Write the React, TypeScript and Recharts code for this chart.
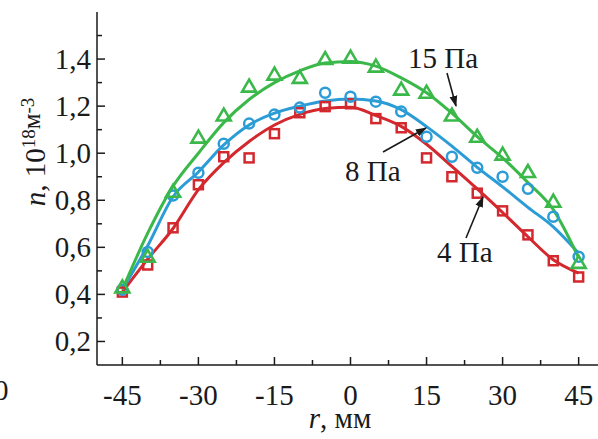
import {
  ComposedChart,
  Line,
  Scatter,
  XAxis,
  YAxis,
} from 'recharts'

const R_FIT = [-45, -40, -35, -30, -25, -20, -15, -10, -5, 0, 5, 10, 15, 20, 25, 30, 35, 40, 45]
const FIT_4PA = [0.41, 0.55, 0.68, 0.845, 0.96, 1.05, 1.12, 1.165, 1.19, 1.195, 1.16, 1.114, 1.038, 0.944, 0.848, 0.748, 0.645, 0.547, 0.49]
const FIT_8PA = [0.42, 0.607, 0.815, 0.92, 1.035, 1.12, 1.17, 1.2, 1.222, 1.23, 1.222, 1.185, 1.113, 1.03, 0.94, 0.857, 0.77, 0.687, 0.575]
const FIT_15PA = [0.42, 0.66, 0.86, 1.0, 1.13, 1.228, 1.3, 1.35, 1.383, 1.39, 1.37, 1.32, 1.257, 1.17, 1.07, 0.98, 0.875, 0.76, 0.555]

const R_PTS = [-45, -40, -35, -30, -25, -20, -15, -10, -5, 0, 5, 10, 15, 20, 25, 30, 35, 40, 45]
const PTS_4PA = [0.41, 0.525, 0.683, 0.866, 0.985, 0.98, 1.083, 1.172, 1.198, 1.21, 1.147, 1.108, 0.98, 0.9, 0.83, 0.755, 0.653, 0.543, 0.474]
const PTS_8PA = [0.42, 0.58, 0.82, 0.917, 1.04, 1.126, 1.164, 1.194, 1.257, 1.24, 1.219, 1.177, 1.07, 0.985, 0.938, 0.9, 0.849, 0.73, 0.56]
const PTS_15PA = [0.43, 0.56, 0.836, 1.066, 1.16, 1.283, 1.334, 1.32, 1.4, 1.406, 1.368, 1.27, 1.257, 1.16, 1.07, 0.994, 0.92, 0.794, 0.534]

const X_TICKS = [-45, -37.5, -30, -22.5, -15, -7.5, 0, 7.5, 15, 22.5, 30, 37.5, 45]
const Y_TICKS = [0.2, 0.3, 0.4, 0.5, 0.6, 0.7, 0.8, 0.9, 1.0, 1.1, 1.2, 1.3, 1.4, 1.5]
const Y_TICKS_RIGHT = [0.3, 0.5, 0.7, 0.9, 1.1, 1.3, 1.5]

const RED = '#d3282e'
const BLUE = '#2c9cd6'
const GREEN = '#3bb84a'
const INK = '#1a1a1a'
const FONT = "'Liberation Serif', 'Times New Roman', serif"

const toRows = (xs: number[], ys: number[]) => xs.map((x, i) => ({ x, y: ys[i] }))

const fit4 = toRows(R_FIT, FIT_4PA)
const fit8 = toRows(R_FIT, FIT_8PA)
const fit15 = toRows(R_FIT, FIT_15PA)
const pts4 = toRows(R_PTS, PTS_4PA)
const pts8 = toRows(R_PTS, PTS_8PA)
const pts15 = toRows(R_PTS, PTS_15PA)

const isMajorY = (v: number) => Math.round(v * 10) % 2 === 0
const isMajorX = (v: number) => Math.round(v * 10) % 150 === 0

function YTick(props: any) {
  const { x, y, payload } = props
  const major = isMajorY(payload.value)
  return (
    <g>
      <line x1={x} y1={y} x2={x + (major ? 8 : 5)} y2={y} stroke={INK} strokeWidth={1.5} />
      {major ? (
        <text x={x - 6} y={y + 10} textAnchor="end" fontFamily={FONT} fontSize={29} fill={INK}>
          {payload.value.toFixed(1).replace('.', ',')}
        </text>
      ) : null}
    </g>
  )
}

function XTick(props: any) {
  const { x, y, payload } = props
  const major = isMajorX(payload.value)
  return (
    <g>
      <line x1={x} y1={y} x2={x} y2={y - (major ? 8 : 5)} stroke={INK} strokeWidth={1.5} />
      {major ? (
        <text x={x} y={y + 40} textAnchor="middle" fontFamily={FONT} fontSize={29} fill={INK}>
          {String(payload.value)}
        </text>
      ) : null}
    </g>
  )
}

function RightTick(props: any) {
  const { x, y } = props
  return <line x1={x} y1={y} x2={x - 9} y2={y} stroke={INK} strokeWidth={1.5} />
}

const Square = (p: any) => (
  <rect x={p.cx - 4.5} y={p.cy - 4.5} width={9} height={9} fill="none" stroke={RED} strokeWidth={2.5} />
)
const Ring = (p: any) => (
  <circle cx={p.cx} cy={p.cy} r={5} fill="none" stroke={BLUE} strokeWidth={2.5} />
)
const Tri = (p: any) => (
  <polygon
    points={`${p.cx},${p.cy - 7} ${p.cx - 7},${p.cy + 5} ${p.cx + 7},${p.cy + 5}`}
    fill="none"
    stroke={GREEN}
    strokeWidth={2.6}
    strokeLinejoin="miter"
  />
)

function Arrow({ x1, y1, x2, y2 }: { x1: number; y1: number; x2: number; y2: number }) {
  return <line x1={x1} y1={y1} x2={x2} y2={y2} stroke={INK} strokeWidth={1.6} markerEnd="url(#head)" />
}

export default function App() {
  return (
    <div style={{ position: 'absolute', left: 0, top: 0, width: 598, height: 439, overflow: 'hidden', background: '#fff' }}>
      <ComposedChart width={640} height={439} margin={{ top: 12, right: 36, bottom: 0, left: 0 }}>
        <XAxis
          type="number"
          dataKey="x"
          domain={[-50, 50]}
          ticks={X_TICKS}
          interval={0}
          height={74}
          tickSize={0}
          tickMargin={0}
          tick={<XTick />}
          axisLine={{ stroke: INK, strokeWidth: 1.5 }}
          tickLine={false}
        />
        <YAxis
          yAxisId="l"
          type="number"
          domain={[0.1, 1.6]}
          ticks={Y_TICKS}
          interval={0}
          width={97}
          tickSize={0}
          tickMargin={0}
          tick={<YTick />}
          axisLine={{ stroke: INK, strokeWidth: 1.5 }}
          tickLine={false}
        />
        <YAxis
          yAxisId="r"
          orientation="right"
          mirror
          type="number"
          domain={[0.1, 1.6]}
          ticks={Y_TICKS_RIGHT}
          interval={0}
          tickSize={0}
          tickMargin={0}
          tick={<RightTick />}
          axisLine={{ stroke: INK, strokeWidth: 1.5 }}
          tickLine={false}
        />
        <Line yAxisId="l" data={fit4} dataKey="y" type="monotone" stroke={RED} strokeWidth={3} dot={false} isAnimationActive={false} />
        <Line yAxisId="l" data={fit8} dataKey="y" type="monotone" stroke={BLUE} strokeWidth={3} dot={false} isAnimationActive={false} />
        <Line yAxisId="l" data={fit15} dataKey="y" type="monotone" stroke={GREEN} strokeWidth={3} dot={false} isAnimationActive={false} />
        <Scatter yAxisId="l" data={pts4} dataKey="y" shape={Square} isAnimationActive={false} />
        <Scatter yAxisId="l" data={pts8} dataKey="y" shape={Ring} isAnimationActive={false} />
        <Scatter yAxisId="l" data={pts15} dataKey="y" shape={Tri} isAnimationActive={false} />
      </ComposedChart>
      <svg
        width={598}
        height={439}
        style={{ position: 'absolute', left: 0, top: 0, pointerEvents: 'none' }}
        fontFamily={FONT}
        fill={INK}
      >
        <defs>
          <marker id="head" viewBox="0 0 10 10" refX="9" refY="5" markerWidth="7" markerHeight="7" orient="auto">
            <path d="M0,1.5 L10,5 L0,8.5 z" fill={INK} />
          </marker>
        </defs>
        <text x={408} y={68} fontSize={29}>15 Па</text>
        <Arrow x1={447} y1={73} x2={456} y2={106} />
        <text x={345} y={181} fontSize={29}>8 Па</text>
        <Arrow x1={383} y1={152} x2={426} y2={128} />
        <text x={437} y={262} fontSize={29}>4 Па</text>
        <Arrow x1={466} y1={238} x2={483} y2={197} />
        <text x={340} y={428} fontSize={29} textAnchor="middle">
          <tspan fontStyle="italic">r</tspan>, мм
        </text>
        <text transform="translate(45,152) rotate(-90)" fontSize={29} textAnchor="middle">
          <tspan fontStyle="italic">n</tspan>, 10
          <tspan fontSize={19} dy={-10}>18</tspan>
          <tspan fontSize={25} dy={5}>м</tspan>
          <tspan fontSize={19} dy={-6}>-3</tspan>
        </text>
        <text x={-6} y={400} fontSize={29}>0</text>
      </svg>
    </div>
  )
}
